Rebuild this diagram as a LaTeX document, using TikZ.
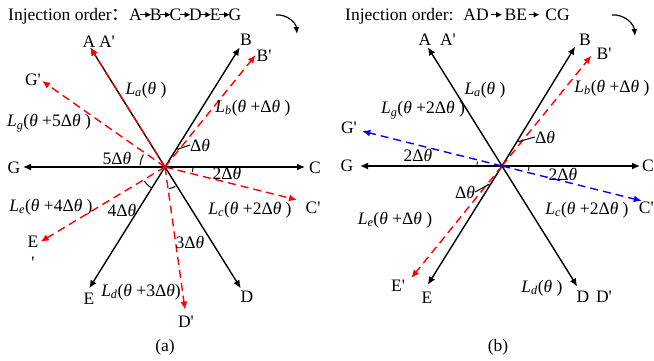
\documentclass[tikz,border=0pt]{standalone}
\usepackage{fontspec}
\setmainfont{Liberation Serif}
\newfontfamily\cjk{Noto Sans CJK SC}
\usetikzlibrary{arrows.meta, positioning}
\definecolor{injred}{RGB}{255,0,0}
\definecolor{injblue}{RGB}{0,0,255}
\newcommand{\tht}{\textit{θ}}
\newcommand{\dth}{Δ\textit{θ}}
\newcommand{\pr}{\textquotesingle}
\newcommand{\Lf}[2]{\textit{L}\textsubscript{\textit{#1}}(\tht\ #2)}
\newcommand{\ord}[1]{\hspace{#1}\tikz[baseline=-5.5pt]\draw[line width=1pt,-{Latex[length=6pt,width=6pt]}] (0,0) -- (11pt,0);\hspace{#1}}

\begin{document}
\begin{tikzpicture}[x=1pt, y=1pt,
  every node/.style={inner sep=0pt, font=\fontsize{17.5}{19}\selectfont},
  axis/.style={line width=1.4pt, -{Latex[length=8pt,width=7pt]}},
  reddash/.style={axis, injred, dash pattern=on 8pt off 5pt},
  bluedash/.style={axis, injblue, dash pattern=on 8pt off 5pt},
  arcmark/.style={line width=1pt},
  turn/.style={line width=1.2pt, -{Latex[length=7pt,width=6pt]}}]
\useasboundingbox (0,0) rectangle (654,360);

% (a) sequential injection
\begin{scope}[shift={(165,193)}]
\coordinate (aO) at (0,0);
\coordinate (aA) at (122:141);
\coordinate (aB) at (58:141);
\coordinate (aBp) at (51:144);
\coordinate (aC) at (0:140);
\coordinate (aCp) at (-14:136);
\coordinate (aD) at (-58:143);
\coordinate (aDp) at (-82:144);
\coordinate (aE) at (238:143);
\coordinate (aEp) at (211:145);
\coordinate (aG) at (180:142);
\coordinate (aGp) at (145:150);
\coordinate (aM) at (54:22);
\draw[arcmark] (150:25) arc[start angle=150, end angle=176, radius=25pt];
\draw[arcmark] (51:22) arc[start angle=51, end angle=58, radius=22pt];
\draw[arcmark] (-10:28) arc[start angle=-10, end angle=-2, radius=28pt];
\draw[arcmark] (214:25) arc[start angle=214, end angle=236, radius=25pt];
\draw[arcmark] (-80:22) arc[start angle=-80, end angle=-62, radius=22pt];
\end{scope}
\foreach \t in {A,B,C,D,E,G}
  \draw[axis] (aO) -- (a\t);
\draw[reddash] (aO) -- (aA);
\foreach \t in {Bp,Cp,Dp,Ep,Gp}
  \draw[reddash] (aO) -- (a\t);

\node (aAl) at (89,318) {A};
\node (aApl) at (107,318) {A\pr};
\node (aBl) at (246,320) {B};
\node (aBpl) at (264,304) {B\pr};
\node (aCl) at (315,192) {C};
\node (aGl) at (14,192) {G};
\node (aDl) at (247,63) {D};
\node (aEl) at (89,61) {E};
\node (aDpl) at (186,38) {D\pr};
\node (aGpl) at (33,280) {G\pr};
\node (aCpl) at (313,152) {C\pr};
\node[align=center] (aEpl) at (33,108) {E\\[2pt]\pr};
\node (aT5) at (117,202) {5\dth};
\node (aT1) at (200,215) {\dth};
\node (aT2) at (227,187) {2\dth};
\node (aT4) at (122,150) {4\dth};
\node (aT3) at (190,118) {3\dth};
\draw[arcmark] (aT1.west) -- (aM);
\node (aLa) at (146,270) {\Lf{a}{}};
\node (aLb) at (253,252) {\Lf{b}{+\dth\ }};
\node (aLg) at (49,237) {\Lf{g}{+5\dth\ }};
\node (aLe) at (51,153) {\Lf{e}{+4\dth\ }};
\node (aLc) at (250,150) {\Lf{c}{+2\dth\ }};
\node (aLd) at (141,68) {\Lf{d}{+3\dth}};
\node[anchor=west] (aTitle) at (8,344) {Injection order{\cjk ：}A\ord{-2pt}B\ord{-2pt}C\ord{-2pt}D\ord{-2pt}E\ord{-2pt}G};
\coordinate (aS) at (276,345);
\coordinate (aF) at (297,326);
\draw[turn] (aS) to[out=5, in=95] (aF);
\node (aCap) at (165,13) {(a)};

% (b) paired injection
\begin{scope}[shift={(502,194)}]
\coordinate (bO) at (0,0);
\coordinate (bA) at (122:140);
\coordinate (bB) at (58.5:140);
\coordinate (bBp) at (51:142);
\coordinate (bC) at (0:138);
\coordinate (bCp) at (-14:144);
\coordinate (bD) at (-58:142);
\coordinate (bE) at (238:140);
\coordinate (bEp) at (231:144);
\coordinate (bG) at (180:142);
\coordinate (bGp) at (166:144);
\coordinate (bM1) at (55:30);
\coordinate (bM2) at (234:23);
\draw[arcmark] (51:30) arc[start angle=51, end angle=58, radius=30pt];
\draw[arcmark] (231:23) arc[start angle=231, end angle=238, radius=23pt];
\draw[arcmark] (170:25) arc[start angle=170, end angle=177, radius=25pt];
\draw[arcmark] (-10:27) arc[start angle=-10, end angle=-2, radius=27pt];
\end{scope}
\foreach \t in {A,B,C,D,E,G}
  \draw[axis] (bO) -- (b\t);
\draw[reddash] (bO) -- (bBp);
\draw[reddash] (bO) -- (bEp);
\draw[bluedash] (bO) -- (bGp);
\draw[bluedash] (bO) -- (bCp);

\node (bAl) at (425,320) {A};
\node (bApl) at (448,320) {A\pr};
\node (bBl) at (585,320) {B};
\node (bBpl) at (604,306) {B\pr};
\node[anchor=east] (bCl) at (654,194) {C};
\node (bGl) at (347,194) {G};
\node (bGpl) at (349,232) {G\pr};
\node[anchor=east] (bCpl) at (654,152) {C\pr};
\node (bEpl) at (398,74) {E\pr};
\node (bEl) at (427,62) {E};
\node (bDl) at (583,63) {D};
\node (bDpl) at (604,63) {D\pr};
\node (bT1) at (545,223) {\dth};
\node (bT1b) at (465,168) {\dth};
\node (bT2) at (418,205) {2\dth};
\node (bT2b) at (563,186) {2\dth};
\draw[arcmark] (bT1.west) -- (bM1);
\draw[arcmark] (bT1b.east) -- (bM2);
\node (bLa) at (485,270) {\Lf{a}{}};
\node (bLb) at (612,272) {\Lf{b}{+\dth\ }};
\node (bLg) at (423,250) {\Lf{g}{+2\dth\ }};
\node (bLc) at (587,150) {\Lf{c}{+2\dth\ }};
\node (bLe) at (395,140) {\Lf{e}{+\dth\ }};
\node (bLd) at (542,72) {\Lf{d}{}};
\node[anchor=west] (bTitle) at (345,344) {Injection order:\hspace{4pt} AD\ord{2pt}BE\ord{1pt}\ CG};
\coordinate (bS) at (612,345);
\coordinate (bF) at (635,324);
\draw[turn] (bS) to[out=5, in=95] (bF);
\node (bCap) at (498,13) {(b)};
\end{tikzpicture}
\end{document}
